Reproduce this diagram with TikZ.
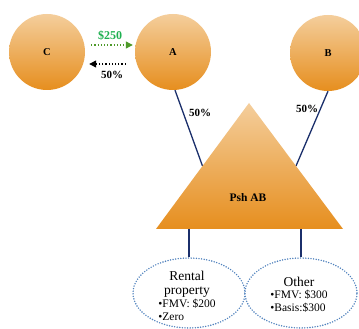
\documentclass[tikz,border=0pt]{standalone}
\usepackage{fontspec}
\setmainfont{Liberation Serif}
\usetikzlibrary{arrows.meta,calc,shapes.geometric}
\definecolor{peach}{HTML}{F4CE9C}
\definecolor{orng}{HTML}{E68E1E}
\definecolor{navy}{HTML}{1B2F6B}
\definecolor{dotblue}{HTML}{4F81BD}
\definecolor{moneygreen}{HTML}{1EB050}
\definecolor{arrgreen}{HTML}{4E9A2A}
\newcommand{\bigline}[1]{\multicolumn{1}{@{}c@{}}{\fontsize{13.5}{16}\selectfont #1}}
\tikzset{
  entity/.style={circle, minimum size=76pt, inner sep=0pt, top color=peach, bottom color=orng, font=\bfseries\fontsize{10.5}{12}\selectfont},
  link/.style={navy, line width=1.3pt},
  asset/.style={ellipse, minimum width=112pt, minimum height=70pt, inner sep=0pt, draw=dotblue, line width=1.6pt, line cap=round, dash pattern=on 0pt off 2.6pt, fill=white},
  assettext/.style={inner sep=0pt, font=\fontsize{11.5}{13}\selectfont},
  pct/.style={font=\bfseries\fontsize{11}{12}\selectfont},
}
\begin{document}
\begin{tikzpicture}[x=1pt,y=1pt]
\clip (0,0) rectangle (359,329);
% circles
\node[entity] (C) at (47,277) {C};
\node[entity] (A) at (173,277) {A};
\node[entity] (B) at (328,276) {B};
% triangle
\coordinate (T) at (249,226);
\coordinate (TL) at (156,100);
\coordinate (TR) at (343,100);
\coordinate (PL) at ($(TL)!0.5!(T)$);
\coordinate (PR) at ($(TR)!0.5!(T)$);
\draw[link] (A.-87) -- (PL);
\draw[link] (B.south) -- (PR);
\shade[top color=peach, bottom color=orng] (TL) -- (T) -- (TR) -- cycle;
\node[font=\bfseries\fontsize{11.5}{13}\selectfont] (psh) at (248,131) {Psh AB};
\node[pct] (p1) at (200,216) {50\%};
\node[pct] (p2) at (307,220) {50\%};
% assets
\node[asset] (E1) at (189,36) {};
\node[asset] (E2) at (301,36) {};
\draw[link] (E1.north |- TL) -- (E1.north);
\draw[link] (E2.north |- TR) -- (E2.north);
\node[assettext] (t1) at (187,31) {%
  \begin{tabular}{@{}l@{}}
  \bigline{Rental}\\[1pt]
  \bigline{property}\\[0pt]
  •FMV: \$200\\
  •Zero
  \end{tabular}};
\node[assettext] (t2) at (299,33) {%
  \begin{tabular}{@{}l@{}}
  \bigline{Other}\\[-1pt]
  •FMV: \$300\\
  •Basis:\$300
  \end{tabular}};
% C <-> A arrows
\draw[arrgreen, line width=1.2pt, dotted, -{Triangle[length=7pt,width=7pt]}] ($(C.east)+(6,7)$) -- ($(A.west)+(-2,7)$);
\node[font=\bfseries\fontsize{12}{13}\selectfont, text=moneygreen] (m) at (110,293) {\$250};
\draw[black, line width=1.2pt, dotted, -{Triangle[length=7pt,width=7pt]}] ($(A.west)+(-9,-12)$) -- ($(C.east)+(4,-12)$);
\node[pct] (p3) at (112,254) {50\%};
\end{tikzpicture}
\end{document}
